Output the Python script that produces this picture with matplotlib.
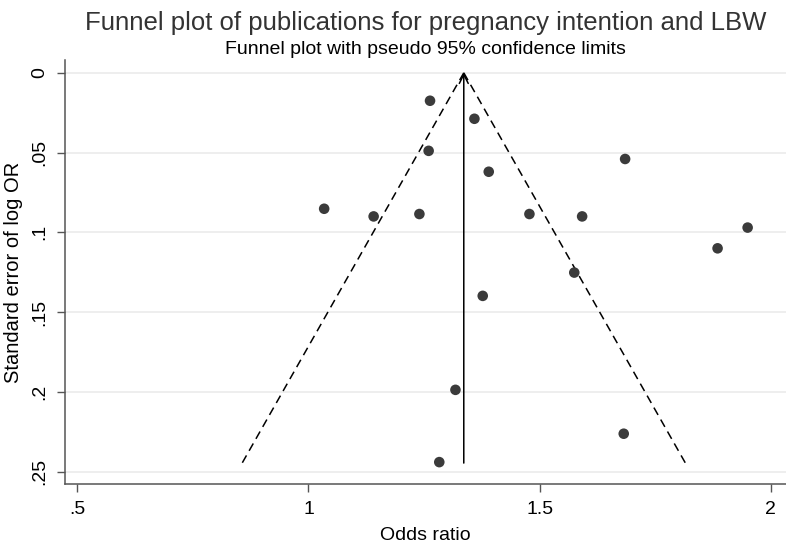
#!/usr/bin/env python3
import matplotlib
matplotlib.use("Agg")
import matplotlib.pyplot as plt
import numpy as np

# study estimates
odds_ratio = [1.263, 1.359, 1.260, 1.390, 1.685, 1.034, 1.141, 1.240,
              1.478, 1.592, 1.950, 1.885, 1.575, 1.377, 1.318, 1.682, 1.283]
se_log_or = [0.0175, 0.0288, 0.0489, 0.0620, 0.0540, 0.0852, 0.0900, 0.0885,
             0.0885, 0.0900, 0.0970, 0.1100, 0.1252, 0.1398, 0.1987, 0.2262, 0.2440]

pooled_or = 1.336
se_max = 0.2446

x_ticks = [0.5, 1, 1.5, 2]
x_tick_labels = [".5", "1", "1.5", "2"]
y_ticks = [0, 0.05, 0.1, 0.15, 0.2, 0.25]
y_tick_labels = ["0", ".05", ".1", ".15", ".2", ".25"]

plt.rcParams["font.family"] = ["Liberation Sans", "DejaVu Sans"]

fig = plt.figure(figsize=(7.86, 5.46), dpi=100)
ax = fig.add_axes([0.0827, 0.1136, 0.9173, 0.7764])

for y in y_ticks:
    ax.axhline(y, color="#eaeaea", linewidth=1.1, zorder=0)

# pseudo 95% confidence limits
se_line = np.array([0.0, se_max])
ax.plot(pooled_or - 1.96 * se_line, se_line, color="black", linewidth=1.1,
        linestyle=(0, (5.5, 3.5)), zorder=2)
ax.plot(pooled_or + 1.96 * se_line, se_line, color="black", linewidth=1.1,
        linestyle=(0, (5.5, 3.5)), zorder=2)

ax.annotate("", xy=(pooled_or, 0.0), xytext=(pooled_or, se_max),
            arrowprops=dict(arrowstyle="->", color="black", linewidth=1.1,
                            mutation_scale=16, shrinkA=0, shrinkB=0), zorder=2)

ax.scatter(odds_ratio, se_log_or, s=58, color="#3b3b3b", edgecolors="none", zorder=3)

ax.set_xlim(0.4734, 2.033)
ax.set_ylim(0.2577, -0.0080)

ax.set_xticks(x_ticks)
ax.set_xticklabels(x_tick_labels)
ax.set_yticks(y_ticks)
ax.set_yticklabels(y_tick_labels, rotation=90, va="center")

for side in ["top", "right"]:
    ax.spines[side].set_visible(False)
for side in ["left", "bottom"]:
    ax.spines[side].set_color("#555555")
    ax.spines[side].set_linewidth(1.1)

ax.tick_params(axis="both", direction="out", length=6, width=1.0, color="#555555",
               labelsize=14, labelcolor="black", pad=6)

ax.set_xlabel("Odds ratio", fontsize=14, labelpad=7)
ax.set_ylabel("Standard error of log OR", fontsize=14.5, labelpad=6)

fig.text(0.541, 0.945, "Funnel plot of publications for pregnancy intention and LBW",
         ha="center", va="baseline", fontsize=18.5, color="#333333")
fig.text(0.541, 0.902, "Funnel plot with pseudo 95% confidence limits",
         ha="center", va="baseline", fontsize=14, color="black")

fig.savefig("out.png", dpi=100)
